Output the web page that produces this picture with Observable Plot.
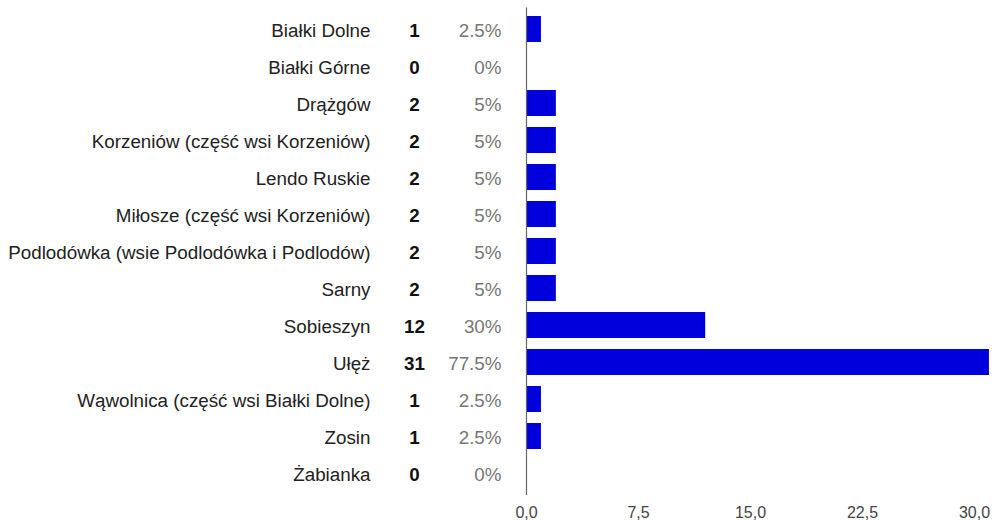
<!DOCTYPE html>
<html>
<head>
<meta charset="utf-8">
<script src="https://cdn.jsdelivr.net/npm/d3@7"></script>
<script src="https://cdn.jsdelivr.net/npm/@observablehq/plot@0.6"></script>
<style>
  html, body { margin: 0; padding: 0; background: #fff; }
  #chart svg { display: block; }
</style>
</head>
<body>
<div id="chart"></div>
<script>
const names = [
  "Białki Dolne",
  "Białki Górne",
  "Drążgów",
  "Korzeniów (część wsi Korzeniów)",
  "Lendo Ruskie",
  "Miłosze (część wsi Korzeniów)",
  "Podlodówka (wsie Podlodówka i Podlodów)",
  "Sarny",
  "Sobieszyn",
  "Ułęż",
  "Wąwolnica (część wsi Białki Dolne)",
  "Zosin",
  "Żabianka"
];
const counts = [1, 0, 2, 2, 2, 2, 2, 2, 12, 31, 1, 1, 0];
const percentLabels = ["2.5%", "0%", "5%", "5%", "5%", "5%", "5%", "5%", "30%", "77.5%", "2.5%", "2.5%", "0%"];
const xTicks = [0, 7.5, 15, 22.5, 30];

const data = names.map((name, i) => ({name, count: counts[i], pct: percentLabels[i]}));

const chart = Plot.plot({
  width: 997,
  height: 521,
  marginLeft: 526,
  marginRight: 23,
  marginTop: 7.5,
  marginBottom: 26,
  style: {fontFamily: "'Liberation Sans', Arial, sans-serif", background: "#fff"},
  x: {domain: [0, 30]},
  y: {domain: names, range: [7.5, 495], paddingInner: 0.3, paddingOuter: 0.15},
  marks: [
    Plot.barX(data, {y: "name", x1: 0, x2: "count", fill: "#0000dc", insetLeft: 1}),
    Plot.ruleX([0], {stroke: "#666", strokeWidth: 1.2}),
    Plot.axisY({tickSize: 0, tickPadding: 156, fontSize: 18.8, fill: "#222", label: null, dy: 1}),
    Plot.axisX({ticks: xTicks, tickSize: 0, tickPadding: 11.5, fontSize: 16, fill: "#444", label: null,
      tickFormat: d => d.toFixed(1).replace(".", ",")}),
    Plot.text(data, {y: "name", x: 0, text: d => String(d.count), dx: -112, dy: 1, textAnchor: "middle",
      fontSize: 18.8, fontWeight: "bold", fill: "#111"}),
    Plot.text(data, {y: "name", x: 0, text: "pct", dx: -25, dy: 1, textAnchor: "end",
      fontSize: 18.8, fill: "#777"})
  ]
});
document.getElementById("chart").appendChild(chart);
</script>
</body>
</html>
